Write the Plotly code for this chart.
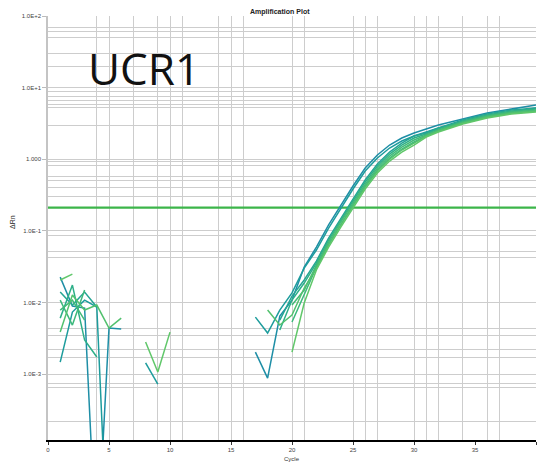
import plotly.graph_objects as go

# ---------------- data ----------------
CYCLES = list(range(1, 41))
N = None

# delta Rn per cycle (log axis); None = not plottable (negative / no data)
T1 = [0.0226, 0.00891, 0.00836, 2.5e-6, 0.00439, 0.00425, N, N, N, N,
      N, N, N, N, N, N, 0.00203, 0.000879, 0.00646, 0.0108,
      0.0312, 0.0594, 0.121, 0.229, 0.423, 0.754, 1.145, 1.579, 1.978, 2.323,
      2.642, 3.005, 3.309, 3.644, 4.013, 4.419, 4.713, 5.026, 5.360, 5.71]
T2 = [0.00147, 0.00735, 0.0108, 0.00863, 1.3e-6, N, N, 0.00143, 0.000725, N,
      N, N, N, N, N, N, 0.00625, 0.00374, 0.00784, 0.0136,
      0.0302, 0.0540, 0.1095, 0.208, 0.384, 0.684, 1.040, 1.434, 1.796, 2.109,
      2.399, 2.729, 3.005, 3.309, 3.644, 4.013, 4.280, 4.564, 4.867, 5.190]
G6 = [0.0140, 0.00921, 0.0140, 0.00863, N, N, N, N, N, N,
      N, N, N, N, N, N, N, N, 0.00568, 0.0123,
      0.0206, 0.0379, 0.0794, 0.151, 0.278, 0.513, 0.857, 1.261, 1.684, 2.109,
      2.323, 2.729, 3.103, 3.529, 3.886, 4.280, 4.564, 4.867, 5.026, 5.190]
G4 = [0.00605, 0.0175, 0.00299, 0.00173, N, N, N, N, N, N,
      N, N, N, N, N, N, N, N, 0.00412, 0.0108,
      0.0187, 0.0355, 0.0744, 0.142, 0.261, 0.480, 0.804, 1.182, 1.579, 1.978,
      2.250, 2.642, 3.005, 3.417, 3.763, 4.144, 4.419, 4.713, 4.867, 5.026]
G5 = [0.00784, 0.0108, 0.00568, N, N, N, N, N, N, N,
      N, N, N, N, N, N, N, N, N, 0.00921,
      0.0149, 0.0333, 0.0698, 0.133, 0.245, 0.450, 0.754, 1.109, 1.481, 1.855,
      2.178, 2.559, 2.910, 3.309, 3.644, 4.013, 4.280, 4.564, 4.713, 4.867]
G2 = [0.0108, 0.00484, 0.0149, N, N, N, N, N, N, N,
      N, N, N, N, N, N, N, N, N, 0.00533,
      0.0127, 0.0312, 0.0655, 0.125, 0.229, 0.423, 0.707, 1.040, 1.389, 1.739,
      2.109, 2.477, 2.818, 3.204, 3.529, 3.886, 4.144, 4.419, 4.564, 4.713]
G3 = [0.00386, 0.0127, 0.00784, 0.00921, 0.00439, 0.00605, N, N, N, N,
      N, N, N, N, N, N, N, 0.00784, 0.00484, 0.00667,
      0.0159, 0.0302, 0.0634, 0.121, 0.222, 0.409, 0.684, 1.007, 1.345, 1.684,
      2.109, 2.477, 2.818, 3.204, 3.529, 3.886, 4.144, 4.419, 4.564, 4.713]
G1 = [0.0206, 0.0249, N, N, N, N, N, 0.00280, 0.00107, 0.00386,
      N, N, N, N, N, N, N, N, N, 0.00203,
      0.00982, 0.0284, 0.0594, 0.113, 0.208, 0.384, 0.642, 0.944, 1.261, 1.579,
      2.043, 2.399, 2.729, 3.103, 3.417, 3.763, 4.013, 4.280, 4.419, 4.564]

SERIES = [T1, T2, G6, G4, G5, G2, G3, G1]
COLORS = ["#1e8ea6", "#1d9c9c", "#25a594", "#2daf88", "#43ba77", "#3db97c", "#52c16e", "#60c76a"]

THRESHOLD = 0.211
XRANGE = [0, 40]

XTICKS = [0, 5, 10, 15, 20, 25, 30, 35, 40]
XGRID = [4, 5, 7, 9, 10, 11, 14, 15, 16, 20, 21, 25, 26, 27, 30, 31, 32, 34, 36, 37, 40]
YTICKS = [0.001, 0.01, 0.1, 1, 10, 100]
YTICKTEXT = ["1.0E-3", "1.0E-2", "1.0E-1", "1.000", "1.0E+1", "1.0E+2"]
YGRID = [70, 60, 50, 30, 20, 8.7, 7.6, 6.7, 5.9, 5.2, 3.0, 0.94, 0.83, 0.58, 0.50,
         0.40, 0.30, 0.085, 0.052, 0.043, 0.0044, 0.0035, 0.0022, 0.0017,
         0.00075, 0.00066, 0.00022]

# ---------------- figure ----------------
fig = go.Figure()

fig.add_trace(go.Scatter(x=XRANGE, y=[THRESHOLD, THRESHOLD], mode="lines",
                         line=dict(color="#3cb54a", width=2.2),
                         hoverinfo="skip", showlegend=False))

for vals, col in zip(SERIES, COLORS):
    fig.add_trace(go.Scatter(x=CYCLES, y=vals, mode="lines",
                             line=dict(color=col, width=1.5),
                             connectgaps=False, showlegend=False))

GRID = "#cdcdcd"
fig.update_layout(
    width=537, height=462,
    margin=dict(l=48, r=1, t=16, b=22),
    paper_bgcolor="white", plot_bgcolor="white",
    font=dict(family="Liberation Sans, Arial, sans-serif", color="#444", size=6),
    xaxis=dict(range=XRANGE, tickmode="array", tickvals=XTICKS,
               ticktext=[str(v) for v in XTICKS],
               showgrid=False, zeroline=False,
               showline=True, linecolor="black", linewidth=2,
               ticks="outside", ticklen=3, tickcolor="#333", tickwidth=1,
               tickfont=dict(size=6, color="#444"),
               minor=dict(tickvals=XGRID, showgrid=True, gridcolor=GRID,
                          gridwidth=1.3, ticks="")),
    yaxis=dict(type="log", range=[-3.92, 2.0], tickmode="array",
               tickvals=YTICKS, ticktext=YTICKTEXT,
               showgrid=True, gridcolor=GRID, gridwidth=1.3, zeroline=False,
               showline=True, linecolor="#c4c4c4", linewidth=1.5,
               ticks="outside", ticklen=4, tickcolor="#bbbbbb",
               tickfont=dict(size=6, color="#444"),
               minor=dict(tickvals=YGRID, showgrid=True, gridcolor=GRID,
                          gridwidth=1.3, ticks="")),
    annotations=[
        dict(text="<b>Amplification Plot</b>", xref="paper", yref="paper",
             x=0.475, y=1.009, xanchor="center", yanchor="middle",
             showarrow=False, font=dict(size=7, color="#222")),
        dict(text="UCR1", xref="paper", yref="paper",
             x=0.196, y=0.877, xanchor="center", yanchor="middle",
             showarrow=False,
             font=dict(family="Open Sans, sans-serif", size=44, color="#111")),
        dict(text="ΔRn", xref="paper", yref="paper",
             x=-0.074, y=0.514, xanchor="center", yanchor="middle",
             textangle=-90, showarrow=False, font=dict(size=7, color="#222")),
        dict(text="Cycle", xref="paper", yref="paper",
             x=0.5, y=-0.045, xanchor="center", yanchor="middle",
             showarrow=False, font=dict(size=6, color="#333")),
    ],
)

fig.write_html("out.html")
